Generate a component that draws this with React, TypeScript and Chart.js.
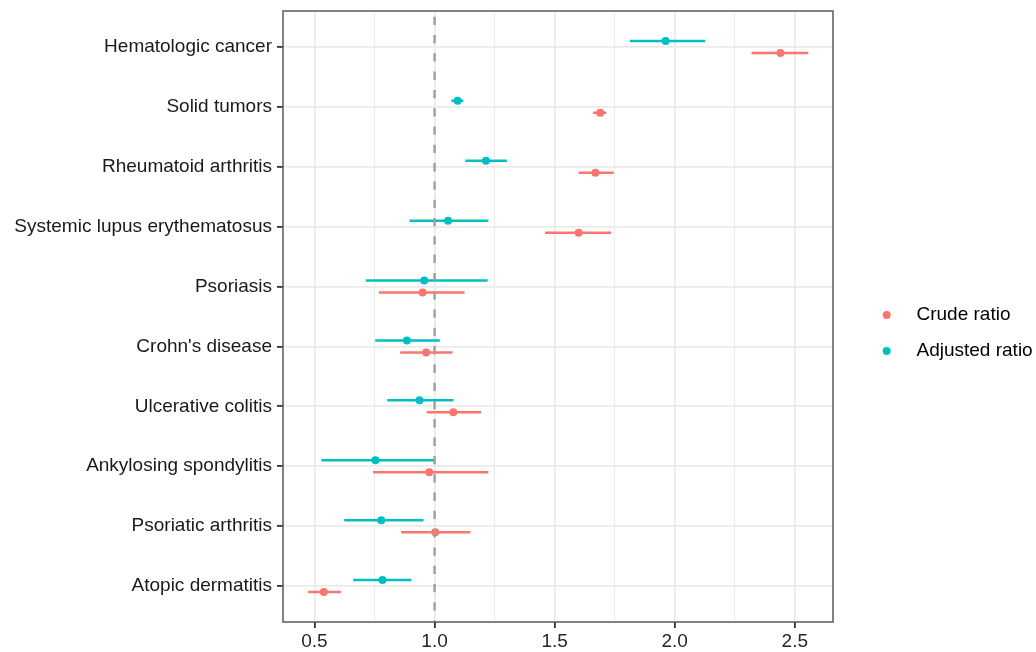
import React, { useEffect, useRef } from "react";
import { Chart, registerables } from "chart.js";

Chart.register(...registerables);

const categories = [
  "Hematologic cancer",
  "Solid tumors",
  "Rheumatoid arthritis",
  "Systemic lupus erythematosus",
  "Psoriasis",
  "Crohn's disease",
  "Ulcerative colitis",
  "Ankylosing spondylitis",
  "Psoriatic arthritis",
  "Atopic dermatitis",
];

const crudeRatio = [2.44, 1.69, 1.67, 1.6, 0.95, 0.965, 1.078, 0.978, 1.003, 0.539];
const crudeLower = [2.32, 1.66, 1.6, 1.46, 0.768, 0.857, 0.967, 0.744, 0.861, 0.474];
const crudeUpper = [2.556, 1.715, 1.746, 1.735, 1.125, 1.075, 1.194, 1.224, 1.149, 0.61];

const adjustedRatio = [1.962, 1.096, 1.214, 1.056, 0.957, 0.885, 0.9375, 0.754, 0.778, 0.783];
const adjustedLower = [1.813, 1.07, 1.128, 0.896, 0.714, 0.753, 0.803, 0.529, 0.624, 0.661];
const adjustedUpper = [2.127, 1.12, 1.301, 1.224, 1.221, 1.022, 1.079, 1.0, 0.954, 0.904];

const xTicks = [0.5, 0.75, 1.0, 1.25, 1.5, 1.75, 2.0, 2.25, 2.5];
const referenceValue = 1;

const seriesNames = ["Crude ratio", "Adjusted ratio"];
const seriesColors = ["#F8766D", "#00BFC4"];

const FONT = "'Liberation Sans', Arial, Helvetica, sans-serif";
const DODGE = 0.1;

const isMajor = (v: number) => Math.abs(v * 2 - Math.round(v * 2)) < 1e-9;

function points(values: number[], offset: number) {
  return values.map((v, i) => ({ x: v, y: i + 1 + offset }));
}

function whiskers(lo: number[], hi: number[], offset: number) {
  const out: any[] = [];
  lo.forEach((l, i) => {
    out.push({ x: l, y: i + 1 + offset });
    out.push({ x: hi[i], y: i + 1 + offset });
    out.push({ x: null, y: null });
  });
  return out;
}

const overlayPlugin = {
  id: "overlay",
  afterDatasetsDraw(chart: any) {
    const { ctx, chartArea, scales } = chart;
    const x = scales.x.getPixelForValue(referenceValue);
    ctx.save();
    // reference dashed line
    ctx.strokeStyle = "#9e9e9e";
    ctx.lineWidth = 2.4;
    ctx.setLineDash([8.3, 10]);
    ctx.lineDashOffset = 12.6;
    ctx.beginPath();
    ctx.moveTo(x, chartArea.top);
    ctx.lineTo(x, chartArea.bottom);
    ctx.stroke();
    ctx.setLineDash([]);
    // panel border
    ctx.strokeStyle = "#5a5a5a";
    ctx.lineWidth = 1.5;
    ctx.strokeRect(
      chartArea.left,
      chartArea.top,
      chartArea.right - chartArea.left,
      chartArea.bottom - chartArea.top
    );
    // legend
    const legendY = [315, 351];
    ctx.font = `19px ${FONT}`;
    ctx.textBaseline = "middle";
    ctx.textAlign = "left";
    seriesNames.forEach((name, i) => {
      ctx.fillStyle = seriesColors[i];
      ctx.beginPath();
      ctx.arc(886.7, legendY[i], 4, 0, Math.PI * 2);
      ctx.fill();
      ctx.fillStyle = "#000";
      ctx.fillText(name, 916.5, legendY[i]);
    });
    ctx.restore();
  },
};

export default function App() {
  const ref = useRef<HTMLCanvasElement | null>(null);

  useEffect(() => {
    if (!ref.current) return;
    const chart = new Chart(ref.current, {
      type: "scatter",
      data: {
        datasets: [
          {
            label: "crude-ci",
            data: whiskers(crudeLower, crudeUpper, DODGE),
            showLine: true,
            borderColor: seriesColors[0],
            borderWidth: 2.5,
            pointRadius: 0,
            spanGaps: false,
            order: 2,
          } as any,
          {
            label: "adjusted-ci",
            data: whiskers(adjustedLower, adjustedUpper, -DODGE),
            showLine: true,
            borderColor: seriesColors[1],
            borderWidth: 2.5,
            pointRadius: 0,
            spanGaps: false,
            order: 2,
          } as any,
          {
            label: seriesNames[0],
            data: points(crudeRatio, DODGE),
            backgroundColor: seriesColors[0],
            borderWidth: 0,
            pointRadius: 4,
            order: 1,
          },
          {
            label: seriesNames[1],
            data: points(adjustedRatio, -DODGE),
            backgroundColor: seriesColors[1],
            borderWidth: 0,
            pointRadius: 4,
            order: 1,
          },
        ],
      },
      options: {
        animation: false,
        responsive: false,
        devicePixelRatio: 1,
        layout: { padding: { top: 11, right: 203, bottom: 0, left: 0 } },
        plugins: { legend: { display: false }, tooltip: { enabled: false } },
        scales: {
          x: {
            type: "linear",
            min: 0.369,
            max: 2.659,
            afterBuildTicks: (scale: any) => {
              scale.ticks = xTicks.map((v) => ({ value: v }));
            },
            afterFit: (scale: any) => {
              scale.height = 30;
              scale.paddingLeft = 0;
              scale.paddingRight = 0;
            },
            border: { display: false },
            grid: {
              color: "#EBEBEB",
              lineWidth: (c: any) => (isMajor(c.tick?.value ?? 0) ? 1.8 : 1),
              tickColor: (c: any) => (isMajor(c.tick?.value ?? 0) ? "#333333" : "rgba(0,0,0,0)"),
              tickWidth: 1.8,
              tickLength: 6,
              drawTicks: true,
            },
            ticks: {
              padding: 2,
              color: "#262626",
              font: { family: FONT, size: 19 },
              maxRotation: 0,
              autoSkip: false,
              callback: (v: any) => (isMajor(Number(v)) ? Number(v).toFixed(1) : ""),
            },
          },
          y: {
            type: "linear",
            reverse: true,
            min: 0.4,
            max: 10.6,
            afterBuildTicks: (scale: any) => {
              scale.ticks = categories.map((_, i) => ({ value: i + 1 }));
            },
            afterFit: (scale: any) => {
              scale.width = 283;
              scale.paddingTop = 0;
              scale.paddingBottom = 0;
            },
            border: { display: false },
            grid: {
              color: "#EBEBEB",
              lineWidth: 1.8,
              tickColor: "#333333",
              tickWidth: 1.8,
              tickLength: 6,
            },
            ticks: {
              padding: 5,
              color: "#1a1a1a",
              font: { family: FONT, size: 19 },
              autoSkip: false,
              callback: (v: any) => categories[Math.round(Number(v)) - 1] ?? "",
            },
          },
        },
      },
      plugins: [overlayPlugin],
    });
    return () => chart.destroy();
  }, []);

  return (
    <div style={{ position: "absolute", left: 0, top: 0, width: 1036, height: 652, background: "#fff" }}>
      <canvas ref={ref} width={1036} height={652} style={{ display: "block" }} />
    </div>
  );
}
